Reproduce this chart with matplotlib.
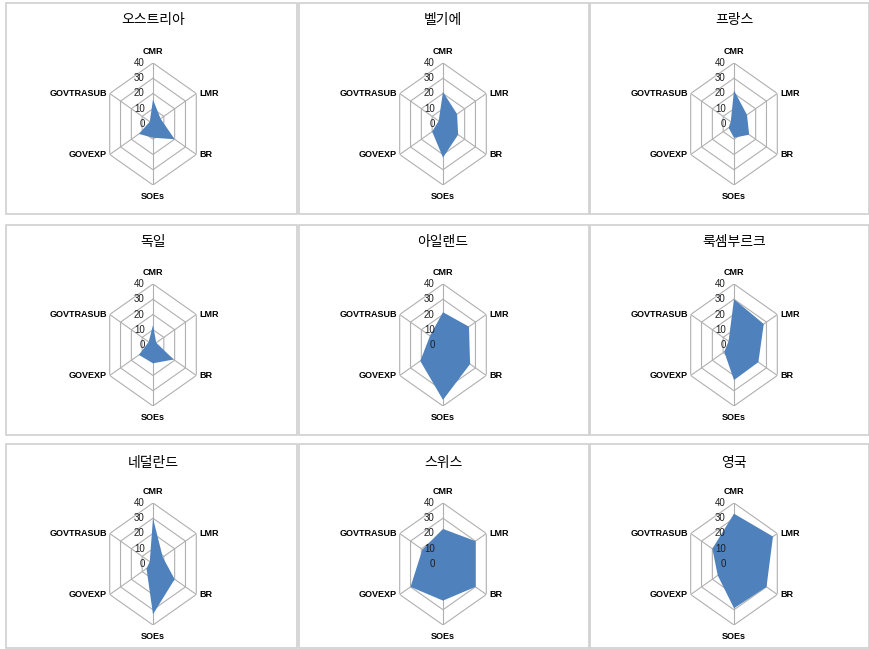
import matplotlib.pyplot as plt
import numpy as np
from matplotlib.patches import Rectangle

categories = ["CMR", "LMR", "BR", "SOEs", "GOVEXP", "GOVTRASUB"]
countries = ["오스트리아", "벨기에", "프랑스", "독일", "아일랜드", "룩셈부르크", "네덜란드", "스위스", "영국"]

austria = [16, 7, 20, 9, 13, 3]
belgium = [21, 13, 14, 22, 10, 4]
france = [22, 12, 14, 9, 5, 3]
germany = [13, 3, 19, 12, 13, 4]
ireland = [21.5, 24, 25, 36, 21, 12]
luxembourg = [30, 27.5, 22.5, 23, 9, 5]
netherlands = [30, 9, 20, 33, 6, 3]
switzerland = [23, 30, 30, 24, 30, 19]
uk = [33, 36, 30, 29, 15, 20]
series = [austria, belgium, france, germany, ireland, luxembourg, netherlands, switzerland, uk]

ring_ticks = [0, 10, 20, 30, 40]

W, H = 870, 649
fig = plt.figure(figsize=(W / 100, H / 100), dpi=100)
fig.patch.set_facecolor("white")

label_font = "Liberation Sans"

# panel frames (pixels from top-left)
cols = [(6, 297), (299, 589), (590, 869)]
rows = [(3, 214), (225, 435), (444, 648)]
centers_x = [153, 443, 734]
centers_y = [124, 345, 564]
title_y = [20, 242, 463]
rx, ry = 50, 61

angles = np.linspace(0, 2 * np.pi, len(categories), endpoint=False)
closed = np.append(angles, angles[0])

for i, (name, vals) in enumerate(zip(countries, series)):
    r, c = divmod(i, 3)
    x0, x1 = cols[c]
    y0, y1 = rows[r]
    fig.patches.append(Rectangle((x0 / W, 1 - y1 / H), (x1 - x0) / W, (y1 - y0) / H,
                                 transform=fig.transFigure, fill=False,
                                 edgecolor="#d0d0d0", linewidth=1.2))
    fig.text(centers_x[c] / W, 1 - title_y[r] / H, name, ha="center", va="center",
             fontsize=10, family=["Noto Sans CJK KR", "DejaVu Sans"], color="#000000")

    cx, cy = centers_x[c], centers_y[r]
    ax = fig.add_axes([(cx - rx) / W, 1 - (cy + ry) / H, 2 * rx / W, 2 * ry / H],
                      projection="polar")
    ax.set_theta_offset(np.pi / 2)
    ax.set_theta_direction(-1)
    ax.set_ylim(0, 40)
    ax.set_aspect("auto")
    ax.axis("off")

    for t in ring_ticks[1:]:
        ax.plot(closed, [t] * len(closed), color="#b0b0b0", lw=0.8, zorder=1)
    for a in angles:
        ax.plot([a, a], [0, 40], color="#b0b0b0", lw=0.8, zorder=1)

    v = list(vals) + [vals[0]]
    ax.fill(closed, v, color="#4F81BD", lw=0, zorder=2)

    for t in ring_ticks:
        ax.annotate(str(t), xy=(0, t), xytext=(-6, 0), textcoords="offset points",
                    ha="right", va="center", fontsize=7, family=label_font, color="#1e1e1e")

    for a, lab in zip(angles, categories):
        dx, dy = np.sin(a), np.cos(a)
        if abs(dx) < 0.1:
            ha = "center"
            off = (0, 8 * dy)
        else:
            ha = "left" if dx > 0 else "right"
            off = (2 * np.sign(dx), 0)
        ax.annotate(lab, xy=(a, 40), xytext=off, textcoords="offset points",
                    ha=ha, va="center", fontsize=6.5, family=label_font,
                    weight="bold", color="#000000", annotation_clip=False)

fig.savefig("out.png", dpi=100, facecolor="white")
